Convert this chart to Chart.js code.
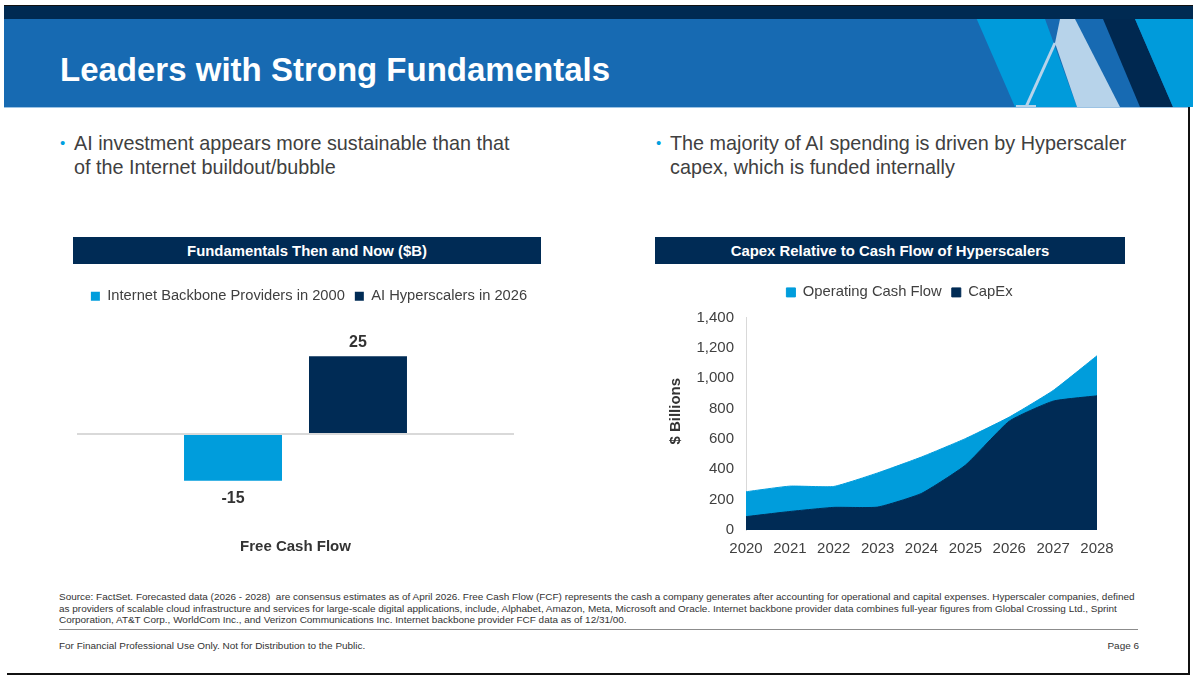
<!DOCTYPE html>
<html><head><meta charset="utf-8">
<script src="https://cdn.jsdelivr.net/npm/chart.js@4.4.1/dist/chart.umd.min.js"></script>
<style>
html,body{margin:0;padding:0;background:#fff;}
body{width:1193px;height:678px;position:relative;overflow:hidden;font-family:"Liberation Sans",Arial,sans-serif;}
.abs{position:absolute;}
.title{left:60px;top:50px;font-weight:bold;font-size:33px;line-height:40px;color:#fff;white-space:nowrap;}
.bullet{font-size:19.8px;line-height:24px;color:#404040;white-space:nowrap;}
.bullet .dot{position:absolute;left:-14px;top:0;color:#00a0df;font-size:15px;}
.hdr{height:27px;background:#002b55;color:#fff;font-weight:bold;font-size:14.9px;line-height:28px;text-align:center;}
.foot{font-size:9.96px;line-height:11.7px;color:#333;white-space:nowrap;}
</style></head><body>
<div class="abs" style="left:4px;top:5px;width:1189px;height:1px;background:#111"></div>
<div class="abs" style="left:4px;top:6px;width:1189px;height:13px;background:#002a52"></div>
<div class="abs" style="left:4px;top:19px;width:1189px;height:88px;background:#176ab2"></div>
<div class="abs" style="left:4px;top:107px;width:1185px;height:1px;background:#9cc3e4"></div>
<svg class="abs" style="left:960px;top:19px" width="233" height="88" viewBox="0 0 233 88">
  <polygon points="16.7,0 85,0 117,88 55,88" fill="#009bdb"/>
  <polygon points="143,0 175,0 213,88 180,88" fill="#002850"/>
  <polygon points="175,0 233,0 233,88 213,88" fill="#009bdb"/>
  <polygon points="100,0 115,0 160,88 117,88 95,24" fill="#b7d3ea"/>
  <line x1="95" y1="24" x2="66" y2="88" stroke="#b7d3ea" stroke-width="3"/>
  <rect x="56" y="86" width="20" height="2" fill="#b7d3ea"/>
</svg>
<div class="abs" style="left:1188px;top:107px;width:2px;height:568px;background:#111"></div>
<div class="abs" style="left:7px;top:673px;width:1183px;height:2px;background:#111"></div>

<div class="abs title">Leaders with Strong Fundamentals</div>

<div class="abs bullet" style="left:74px;top:131px"><span class="dot">•</span>AI investment appears more sustainable than that<br>of the Internet buildout/bubble</div>
<div class="abs bullet" style="left:670px;top:131px"><span class="dot">•</span>The majority of AI spending is driven by Hyperscaler<br>capex, which is funded internally</div>

<div class="abs hdr" style="left:73px;top:237px;width:468px">Fundamentals Then and Now ($B)</div>
<div class="abs hdr" style="left:655px;top:237px;width:470px">Capex Relative to Cash Flow of Hyperscalers</div>

<div class="abs" style="left:77px;top:279px;width:464px;height:278px"><canvas id="fcf"></canvas></div>
<div class="abs" style="left:655px;top:275px;width:470px;height:290px"><canvas id="capex"></canvas></div>

<div class="abs foot" style="left:59px;top:591px">Source: FactSet. Forecasted data (2026 - 2028)&nbsp; are consensus estimates as of April 2026. Free Cash Flow (FCF) represents the cash a company generates after accounting for operational and capital expenses. Hyperscaler companies, defined<br>as providers of scalable cloud infrastructure and services for large-scale digital applications, include, Alphabet, Amazon, Meta, Microsoft and Oracle. Internet backbone provider data combines full-year figures from Global Crossing Ltd., Sprint<br>Corporation, AT&amp;T Corp., WorldCom Inc., and Verizon Communications Inc. Internet backbone provider FCF data as of 12/31/00.</div>
<div class="abs" style="left:59px;top:629px;width:1079px;height:1px;background:#8c8c8c"></div>
<div class="abs foot" style="left:59px;top:640px">For Financial Professional Use Only. Not for Distribution to the Public.</div>
<div class="abs foot" style="left:1000px;top:640px;width:139px;text-align:right">Page 6</div>

<script>
// ---- Data ----
const fcfCategories = ['Free Cash Flow'];
const fcfSeriesNames = ['Internet Backbone Providers in 2000', 'AI Hyperscalers in 2026'];
const fcfBackbone2000 = [-15];
const fcfHyperscalers2026 = [25];

const years = ['2020','2021','2022','2023','2024','2025','2026','2027','2028'];
const operatingCashFlow = [252, 289, 287, 376, 481, 602, 744, 919, 1148];
const capex = [88, 122, 149, 151, 241, 427, 717, 849, 884];
const capexSeriesNames = ['Operating Cash Flow', 'CapEx'];

const LIGHT = '#009ddc';
const NAVY = '#002b55';
const FONT = '"Liberation Sans", Arial, sans-serif';

Chart.defaults.font.family = FONT;
Chart.defaults.color = '#404040';

const legendGap = {
  id: 'legendGap',
  beforeInit(chart, args, opts) {
    const lg = chart.legend;
    if (lg && !lg._gapPatched) {
      const orig = lg.fit;
      lg.fit = function () { orig.call(this); this.height += (opts.gap || 0); };
      lg._gapPatched = true;
    }
  },
  afterLayout(chart, args, opts) {
    const lg = chart.legend;
    if (lg && opts.dx) { lg.left += opts.dx; lg.right += opts.dx; }
  }
};

const valueLabels = {
  id: 'valueLabels',
  afterDatasetsDraw(chart) {
    const ctx = chart.ctx;
    chart.data.datasets.forEach((ds, i) => {
      const meta = chart.getDatasetMeta(i);
      meta.data.forEach((bar, j) => {
        const v = ds.data[j];
        ctx.save();
        ctx.font = 'bold 16px ' + FONT;
        ctx.fillStyle = '#333333';
        ctx.textAlign = 'center';
        ctx.textBaseline = v >= 0 ? 'bottom' : 'top';
        ctx.fillText(String(v), bar.x, v >= 0 ? bar.y - 6 : bar.y + 10);
        ctx.restore();
      });
    });
  }
};

new Chart(document.getElementById('fcf'), {
  type: 'bar',
  data: {
    labels: fcfCategories,
    datasets: [
      { label: fcfSeriesNames[0], data: fcfBackbone2000, backgroundColor: LIGHT, borderWidth: 0 },
      { label: fcfSeriesNames[1], data: fcfHyperscalers2026, backgroundColor: NAVY, borderWidth: 0 }
    ]
  },
  options: {
    responsive: true, maintainAspectRatio: false, animation: false,
    categoryPercentage: 0.572, barPercentage: 0.784,
    layout: { padding: 0 },
    plugins: {
      legendGap: { gap: 27 },
      tooltip: { enabled: false },
      legend: {
        position: 'top',
        labels: { boxWidth: 9, boxHeight: 9, padding: 10, color: '#404040', font: { size: 14.7, family: FONT } }
      }
    },
    scales: {
      x: {
        grid: { display: false, drawTicks: false },
        border: { display: false },
        ticks: { color: '#333333', font: { size: 15, weight: 'bold', family: FONT }, padding: 41 },
        afterFit(axis) { axis.height = 60.6; }
      },
      y: {
        position: 'right',
        min: -20, max: 30,
        ticks: { display: false, stepSize: 10 },
        border: { display: false },
        grid: {
          drawTicks: false,
          color: (c) => c.tick && c.tick.value === 0 ? '#d9d9d9' : 'rgba(0,0,0,0)',
          lineWidth: (c) => c.tick && c.tick.value === 0 ? 2 : 0
        },
        afterFit(axis) { axis.width = 27; }
      }
    }
  },
  plugins: [legendGap, valueLabels]
});

new Chart(document.getElementById('capex'), {
  type: 'line',
  data: {
    labels: years,
    datasets: [
      { label: capexSeriesNames[0], data: operatingCashFlow, order: 2, fill: 'origin',
        backgroundColor: LIGHT, borderColor: LIGHT, borderWidth: 1, pointRadius: 0, tension: 0.15 },
      { label: capexSeriesNames[1], data: capex, order: 1, fill: 'origin',
        backgroundColor: NAVY, borderColor: NAVY, borderWidth: 1, pointRadius: 0, tension: 0.15 }
    ]
  },
  options: {
    responsive: true, maintainAspectRatio: false, animation: false,
    layout: { padding: { left: 0, right: 28, top: 0, bottom: 0 } },
    plugins: {
      legendGap: { gap: 7.7, dx: -22 },
      tooltip: { enabled: false },
      legend: {
        position: 'top',
        fullSize: false,
        labels: {
          boxWidth: 9, boxHeight: 9, padding: 10, color: '#404040', font: { size: 14.8, family: FONT },
          sort: (a, b) => a.datasetIndex - b.datasetIndex
        }
      }
    },
    scales: {
      x: {
        grid: { display: false, drawTicks: false },
        border: { display: false },
        ticks: { color: '#404040', font: { size: 15, family: FONT }, padding: 10, maxRotation: 0, autoSkip: false },
        afterFit(axis) { axis.height = 35; }
      },
      y: {
        min: 0, max: 1400,
        ticks: { stepSize: 200, color: '#404040', font: { size: 15, family: FONT }, padding: 12 },
        grid: { display: false, drawTicks: false },
        border: { display: true, color: '#d9d9d9', width: 1 },
        title: { display: true, text: '      $ Billions', color: '#333333', font: { size: 15, weight: 'bold', family: FONT }, padding: { top: 12, bottom: 0 } },
        afterFit(axis) { axis.width = 91; }
      }
    }
  },
  plugins: [legendGap]
});
</script>
</body></html>
